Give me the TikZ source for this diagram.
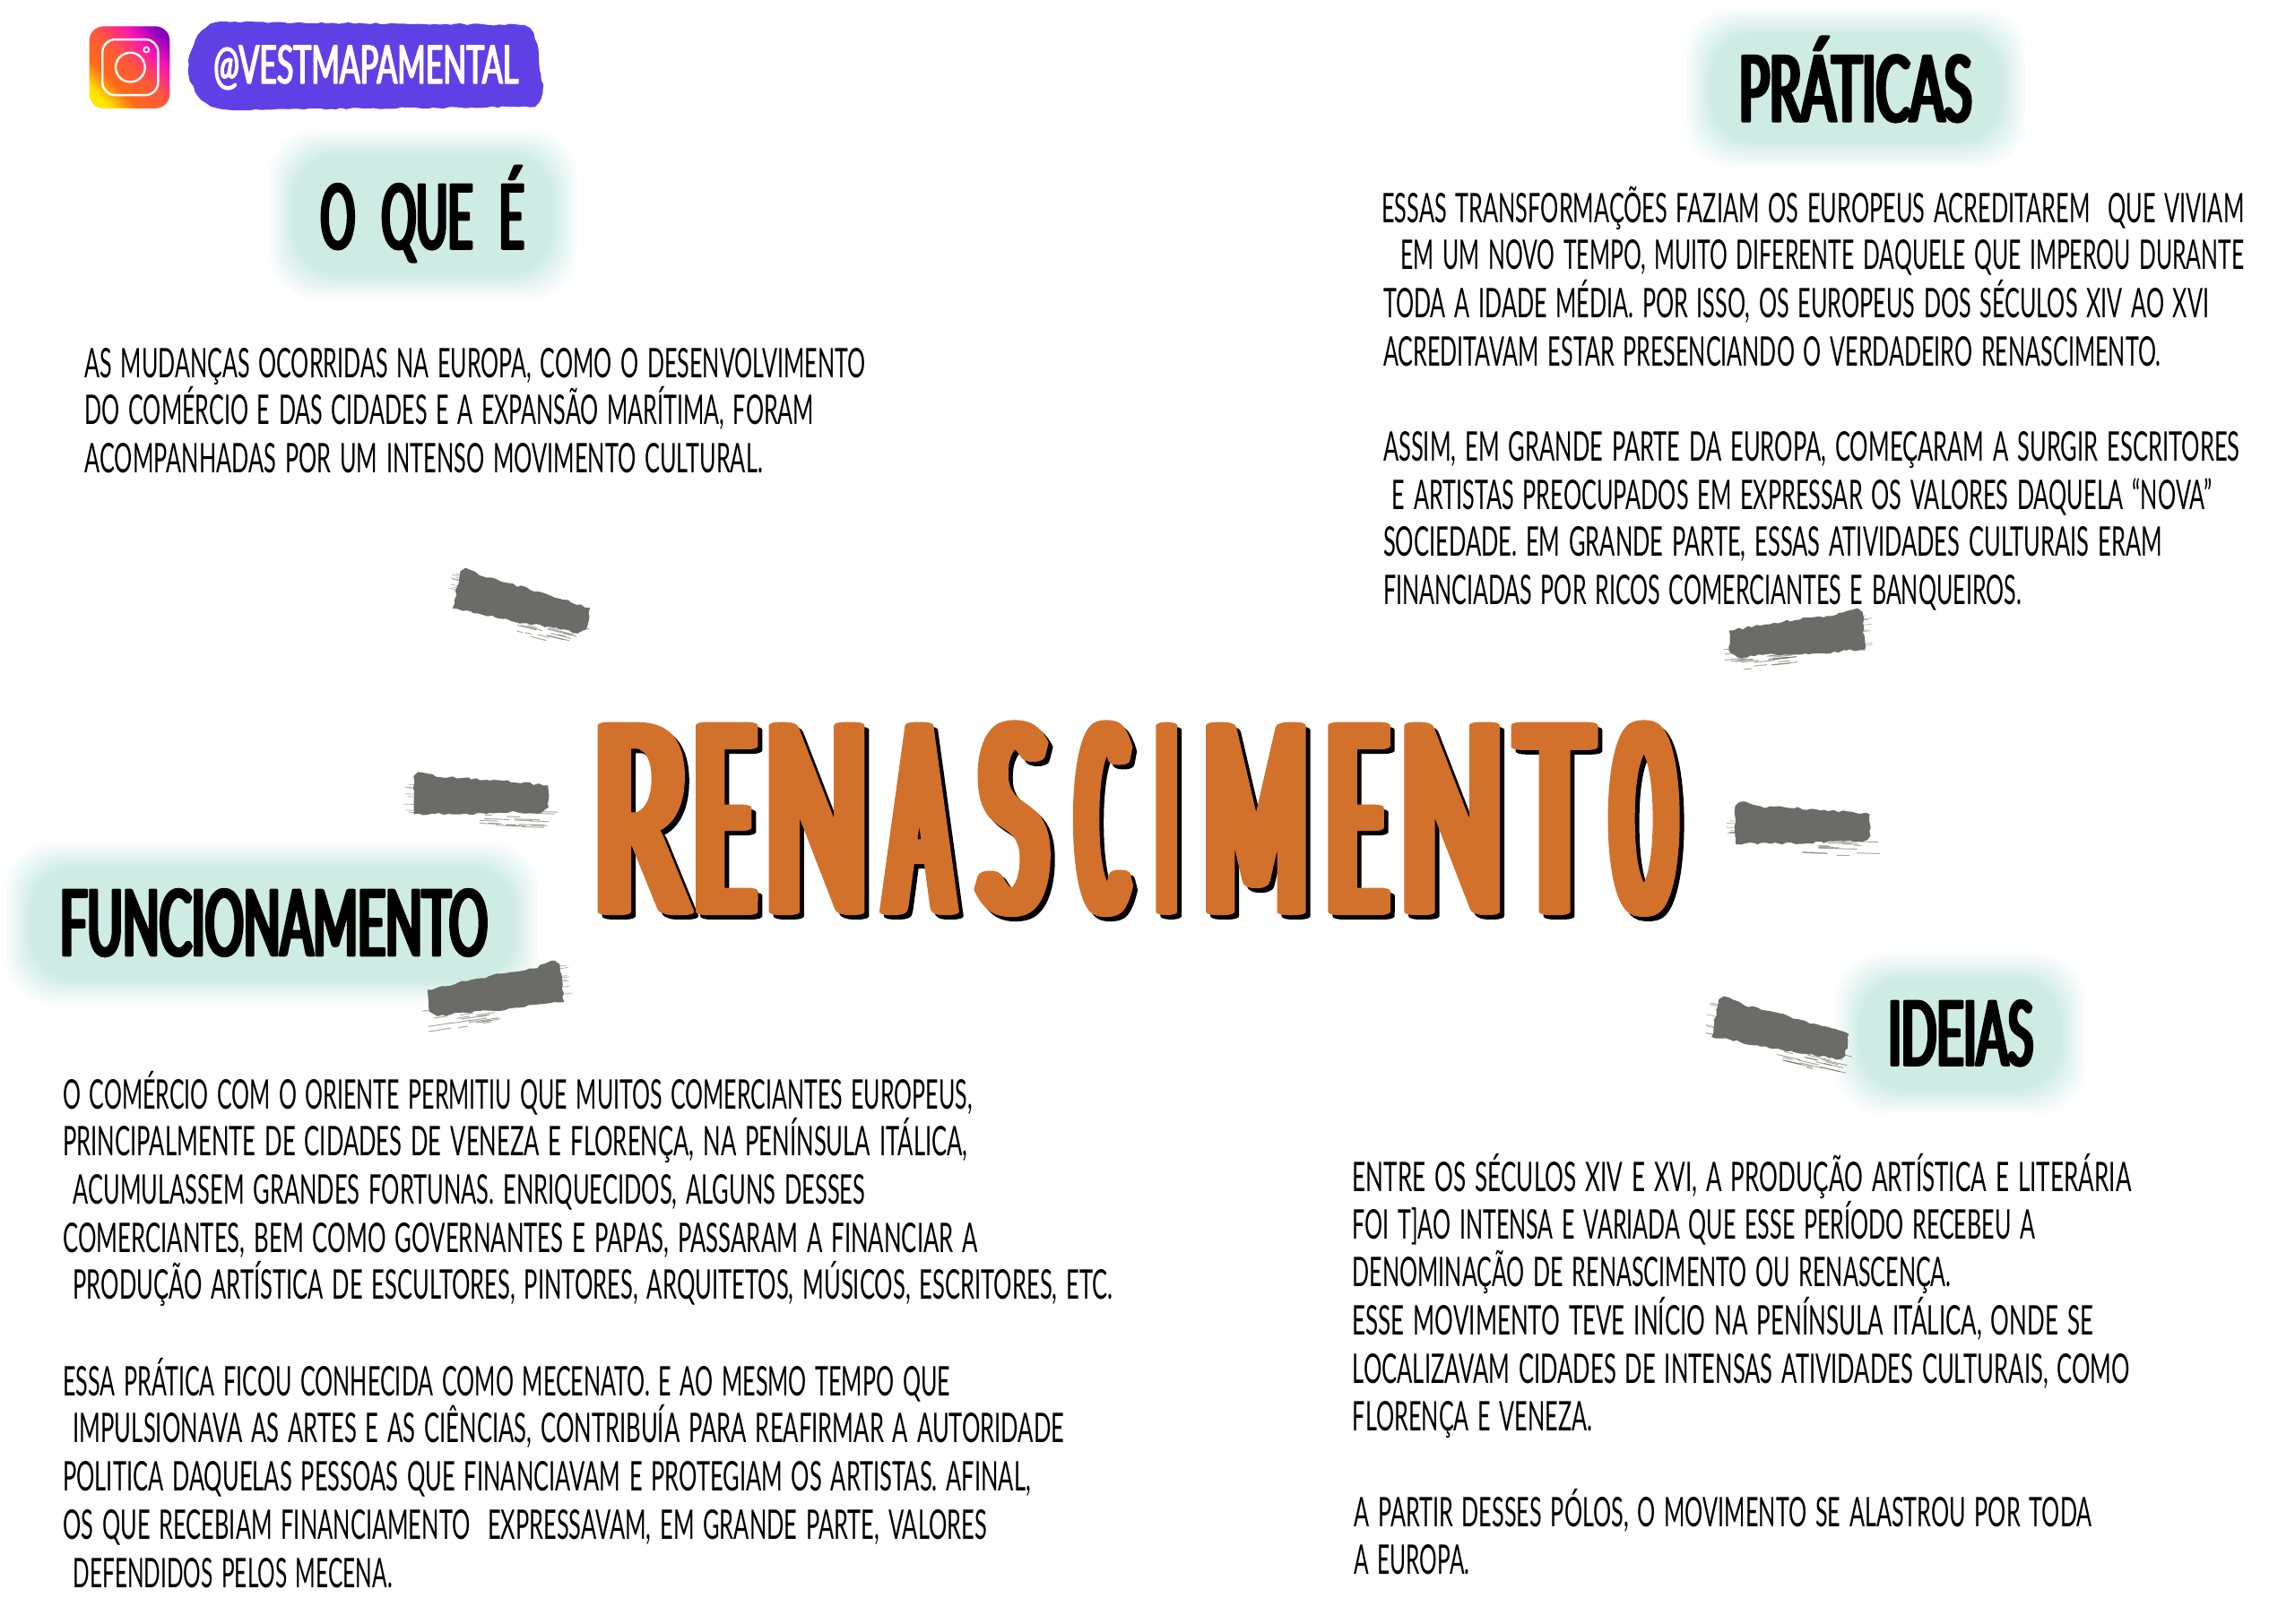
\documentclass[tikz,border=0pt]{standalone}
\usepackage{fontspec}
\usepackage{graphicx}
\usetikzlibrary{decorations.pathmorphing,shadings}
\newfontfamily\bodyf[WordSpace=1.5]{Lato}
\newfontfamily\headf[FakeBold=2.4,FakeStretch=.26,WordSpace=1.2]{Lato}
\newfontfamily\handf[FakeBold=1.5,FakeStretch=.3,WordSpace=1.5]{Lato}
\newfontfamily\titlef[FakeBold=2.6]{Lato}
\definecolor{tealb}{HTML}{CFECE4}
\definecolor{brushc}{HTML}{6B6B68}
\definecolor{purpl}{HTML}{5E41E5}
\definecolor{orng}{HTML}{D2712B}
\pgfdeclarehorizontalshading{igshade}{100bp}{color(0bp)=(yellow!80!orange); color(24bp)=(yellow!80!orange); color(36bp)=(orange!70!red!90!white); color(52bp)=(red!60!pink!80!orange); color(66bp)=(magenta!70!red!90!pink); color(78bp)=(violet!70!blue!70!magenta); color(100bp)=(violet)}
\newsavebox\fitbox
\newsavebox\fitcap
% name, x, baseline y, right x, cap height, font, text
\newcommand\fitline[7]{%
 \node[inner sep=0pt,outer sep=0pt,anchor=base west] (#1) at (#2,#3) {%
  \sbox\fitbox{\fontsize{20}{24}\selectfont #6#7}%
  \sbox\fitcap{\fontsize{20}{24}\selectfont #6H}%
  \pgfmathsetmacro\fsx{(#4-#2)*0.8164/\wd\fitbox}%
  \pgfmathsetmacro\fsy{#5*0.8164/\ht\fitcap}%
  \scalebox{\fsx}[\fsy]{\usebox\fitbox}};}
\newcommand\bline[5]{\fitline{#1}{#2}{#3}{#4}{#5}{\bodyf}}
\newcommand\blob[4]{%
 \foreach \i in {0,1,...,16}{%
  \pgfmathsetmacro\pc{5+5.94*\i}%
  \pgfmathsetmacro\ins{\i*1.1-9}%
  \fill[tealb!\pc!white,rounded corners=26pt] ({#1+\ins},{#2+\ins}) rectangle ({#3-\ins},{#4-\ins});
 }}
% cx, cy, rotation, x flip
\newcommand\brush[4]{%
 \begin{scope}[shift={(#1,#2)},rotate=#3,xscale=#4]
  \foreach \k in {1,...,30}{%
   \pgfmathsetmacro\ya{2+rnd*17}%
   \pgfmathsetmacro\xa{0+rnd*38}%
   \pgfmathsetmacro\xb{\xa+4+rnd*14}%
   \draw[brushc,line width=.5pt,opacity=.6] (\xa,\ya) -- (\xb,\ya);
  }
  \foreach \k in {1,...,8}{%
   \pgfmathsetmacro\ya{-12+rnd*24}%
   \pgfmathsetmacro\xa{-48-rnd*4}%
   \draw[brushc,line width=.4pt,opacity=.5] (\xa,\ya) -- (-42,\ya);
  }
  \fill[brushc,decorate,decoration={random steps,segment length=2.5pt,amplitude=.7pt}] (-46,-13) -- (-43,-16) -- (-36,-15) -- (-28,-13) -- (-12,-13) -- (15,-12) -- (46,-10) -- (47,5) -- (42,9) -- (25,9) -- (5,11) -- (-15,12) -- (-32,12) -- (-45,13) -- cycle;
 \end{scope}}
\newcommand\tlet[4]{%
 \node[inner sep=0pt,outer sep=0pt,anchor=base] (#1) at (#2) {\scalebox{21}[7.25]{\fontsize{20}{24}\selectfont\titlef\addfontfeature{FakeStretch=#4}#3}};}
\begin{document}
\begin{tikzpicture}[x=0.8164pt,y=-0.8164pt]
\pgfmathsetseed{4242}
\useasboundingbox (0,0) rectangle (1567.86,1109.2);
\fill[white] (0,0) rectangle (1567.86,1109.2);
% blobs
\blob{192}{97}{386}{196}
\blob{1160}{14}{1376}{106}
\blob{12}{584}{360}{678}
\blob{1262}{660}{1416}{753}
% brush strokes
\brush{356}{414}{-14}{1}
\brush{328}{545}{-2}{1}
\brush{339}{679}{9}{-1}
\brush{1228}{436}{6}{-1}
\brush{1231}{565}{-1.5}{1}
\brush{1216}{706}{-13}{1}
% instagram
\shade[shading=igshade,shading angle=45,rounded corners=8pt] (61,18) rectangle (116,74);
\draw[white,line width=1.2pt,rounded corners=7pt] (70,27) rectangle (108,65);
\draw[white,line width=1.2pt] (89,46) circle (10);
\draw[white,line width=.9pt] (100,34) circle (1.8);
% handle
\fill[purpl,decorate,decoration={random steps,segment length=3pt,amplitude=.5pt}] (129,45) .. controls (130,28) and (138,17) .. (150,15) -- (355,17) .. controls (364,18) and (367,28) .. (368,40) -- (371,60) .. controls (371,68) and (368,72) .. (362,73) -- (155,75) .. controls (140,74) and (129,62) .. (129,45) -- cycle;
\begin{scope}[line join=round]
\fitline{handle}{146}{57}{354}{26}{\handf\color{white}}{@VESTMAPAMENTAL}
% title
\begin{scope}[shift={(3,3)}]
\foreach \n/\l/\c/\e in {sa/R/437/.193,sb/E/495/.128,sc/N/558/.174,sd/A/628/.119,se/S/692/.163,sf/C/753/.09,sg/I/797/.022,sh/M/858/.143,si/E/927/.128,sj/N/992/.174,sk/T/1062/.159,sl/O/1123/.098}{
 \color{black}\tlet{\n}{\c,623}{\l}{\e}}
\end{scope}
\foreach \n/\l/\c/\e in {ta/R/437/.193,tb/E/495/.128,tc/N/558/.174,td/A/628/.119,te/S/692/.163,tf/C/753/.09,tg/I/797/.022,th/M/858/.143,ti/E/927/.128,tj/N/992/.174,tk/T/1062/.159,tl/O/1123/.098}{
 \color{orng}\tlet{\n}{\c,623}{\l}{\e}}
\color{black}
% headings
\fitline{hoque}{219}{170}{358}{44}{\headf}{O\ \ QUE\ \ É}
\fitline{hpraticas}{1188}{83}{1347}{45}{\headf}{PRÁTICAS}
\fitline{hfunc}{41}{653}{333}{45}{\headf}{FUNCIONAMENTO}
\fitline{hideias}{1290}{728}{1389}{44}{\headf}{IDEIAS}
\end{scope}
% O QUE E
\bline{a1}{58}{258}{591}{20}{AS MUDANÇAS OCORRIDAS NA EUROPA, COMO O DESENVOLVIMENTO}
\bline{a2}{58}{290}{556}{20}{DO COMÉRCIO E DAS CIDADES E A EXPANSÃO MARÍTIMA, FORAM}
\bline{a3}{58}{323}{521}{20}{ACOMPANHADAS POR UM INTENSO MOVIMENTO CULTURAL.}
% PRATICAS
\bline{b1}{944}{152}{1533}{20}{ESSAS TRANSFORMAÇÕES FAZIAM OS EUROPEUS ACREDITAREM\ \ QUE VIVIAM}
\bline{b2}{957}{184}{1533}{20}{EM UM NOVO TEMPO, MUITO DIFERENTE DAQUELE QUE IMPEROU DURANTE}
\bline{b3}{945}{217}{1509}{20}{TODA A IDADE MÉDIA. POR ISSO, OS EUROPEUS DOS SÉCULOS XIV AO XVI}
\bline{b4}{945}{250}{1476}{20}{ACREDITAVAM ESTAR PRESENCIANDO O VERDADEIRO RENASCIMENTO.}
\bline{b5}{945}{315}{1530}{20}{ASSIM, EM GRANDE PARTE DA EUROPA, COMEÇARAM A SURGIR ESCRITORES}
\bline{b6}{951}{348}{1511}{20}{E ARTISTAS PREOCUPADOS EM EXPRESSAR OS VALORES DAQUELA “NOVA”}
\bline{b7}{945}{380}{1477}{20}{SOCIEDADE. EM GRANDE PARTE, ESSAS ATIVIDADES CULTURAIS ERAM}
\bline{b8}{945}{413}{1381}{20}{FINANCIADAS POR RICOS COMERCIANTES E BANQUEIROS.}
% FUNCIONAMENTO
\bline{c1}{43}{758}{664}{20}{O COMÉRCIO COM O ORIENTE PERMITIU QUE MUITOS COMERCIANTES EUROPEUS,}
\bline{c2}{43}{790}{661}{20}{PRINCIPALMENTE DE CIDADES DE VENEZA E FLORENÇA, NA PENÍNSULA ITÁLICA,}
\bline{c3}{50}{823}{591}{20}{ACUMULASSEM GRANDES FORTUNAS. ENRIQUECIDOS, ALGUNS DESSES}
\bline{c4}{43}{856}{668}{20}{COMERCIANTES, BEM COMO GOVERNANTES E PAPAS, PASSARAM A FINANCIAR A}
\bline{c5}{50}{888}{760}{20}{PRODUÇÃO ARTÍSTICA DE ESCULTORES, PINTORES, ARQUITETOS, MÚSICOS, ESCRITORES, ETC.}
\bline{c6}{43}{954}{649}{20}{ESSA PRÁTICA FICOU CONHECIDA COMO MECENATO. E AO MESMO TEMPO QUE}
\bline{c7}{50}{986}{727}{20}{IMPULSIONAVA AS ARTES E AS CIÊNCIAS, CONTRIBUÍA PARA REAFIRMAR A AUTORIDADE}
\bline{c8}{43}{1019}{704}{20}{POLITICA DAQUELAS PESSOAS QUE FINANCIAVAM E PROTEGIAM OS ARTISTAS. AFINAL,}
\bline{c9}{43}{1052}{674}{20}{OS QUE RECEBIAM FINANCIAMENTO\ \ EXPRESSAVAM, EM GRANDE PARTE, VALORES}
\bline{c10}{50}{1085}{268}{20}{DEFENDIDOS PELOS MECENA.}
% IDEIAS
\bline{d1}{924}{814}{1456}{20}{ENTRE OS SÉCULOS XIV E XVI, A PRODUÇÃO ARTÍSTICA E LITERÁRIA}
\bline{d2}{924}{847}{1390}{20}{FOI T]AO INTENSA E VARIADA QUE ESSE PERÍODO RECEBEU A}
\bline{d3}{924}{879}{1333}{20}{DENOMINAÇÃO DE RENASCIMENTO OU RENASCENÇA.}
\bline{d4}{924}{912}{1430}{20}{ESSE MOVIMENTO TEVE INÍCIO NA PENÍNSULA ITÁLICA, ONDE SE}
\bline{d5}{924}{945}{1455}{20}{LOCALIZAVAM CIDADES DE INTENSAS ATIVIDADES CULTURAIS, COMO}
\bline{d6}{924}{978}{1088}{20}{FLORENÇA E VENEZA.}
\bline{d7}{925}{1043}{1429}{20}{A PARTIR DESSES PÓLOS, O MOVIMENTO SE ALASTROU POR TODA}
\bline{d8}{925}{1076}{1004}{20}{A EUROPA.}
\end{tikzpicture}
\end{document}
